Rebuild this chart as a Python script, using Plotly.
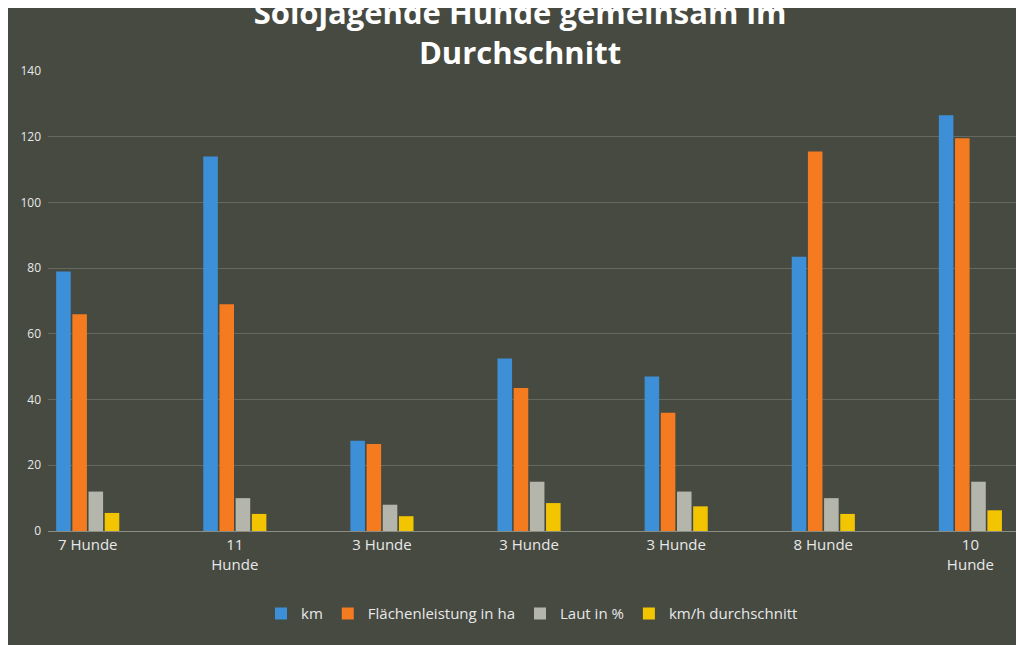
import plotly.graph_objects as go

categories = ["7 Hunde", "11<br>Hunde", "3 Hunde", "3 Hunde", "3 Hunde", "8 Hunde", "10<br>Hunde"]
km = [79, 114, 27.5, 52.5, 47, 83.5, 126.5]
flaeche = [66, 69, 26.5, 43.5, 36, 115.5, 119.5]
laut = [12, 10, 8, 15, 12, 10, 15]
kmh = [5.5, 5.2, 4.5, 8.5, 7.5, 5.2, 6.3]

x = list(range(len(categories)))

series = [
    ("km", km, "#3d8fd8"),
    ("Flächenleistung in ha", flaeche, "#f47b20"),
    ("Laut in %", laut, "#b5b6ab"),
    ("km/h durchschnitt", kmh, "#f2c500"),
]

fig = go.Figure()
for name, vals, color in series:
    fig.add_trace(go.Bar(x=x, y=vals, name=name, marker_color=color, marker_line_width=0))

fig.update_layout(
    width=1024, height=645,
    paper_bgcolor="#464a41", plot_bgcolor="rgba(0,0,0,0)",
    font=dict(family="Open Sans", color="#e8e8e8", size=14),
    title=dict(text="<b>Solojagende Hunde gemeinsam im<br>Durchschnitt</b>",
               x=0.5, y=0.975, xanchor="center", yanchor="top",
               font=dict(size=31, color="white", family="Open Sans")),
    barmode="group", bargap=0.56, bargroupgap=0.1,
    margin=dict(l=27, r=16, t=63, b=122),
    legend=dict(orientation="h", x=0.5, xanchor="center", y=-0.18, yanchor="middle",
                font=dict(size=15), bgcolor="rgba(0,0,0,0)"),
    showlegend=True,
)
fig.update_xaxes(tickvals=x, ticktext=categories, range=[-0.27, 6.31],
                 showline=True, linecolor="#8a8d82", showgrid=False,
                 tickfont=dict(size=15))
fig.update_yaxes(range=[0, 140], dtick=20, gridcolor="rgba(200,200,190,0.25)",
                 zeroline=False, tickfont=dict(size=12), ticklabelstandoff=6)

fig.write_html("out.html")
